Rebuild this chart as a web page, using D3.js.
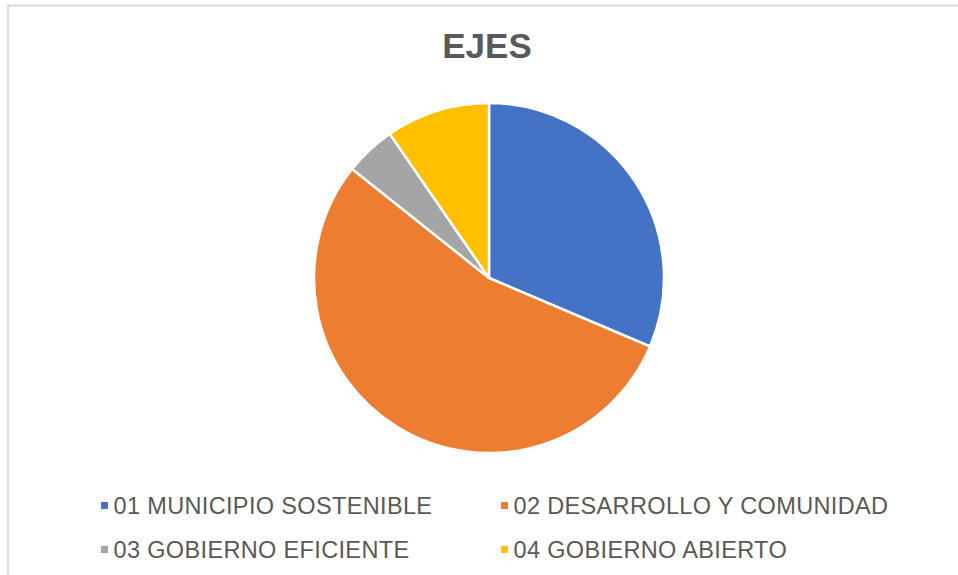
<!DOCTYPE html>
<html>
<head>
<meta charset="utf-8">
<script src="https://cdn.jsdelivr.net/npm/d3@7"></script>
<style>
    html, body { margin: 0; padding: 0; background: #fff; }
    svg { display: block; }
</style>
</head>
<body>
<div id="chart"></div>
<script>
// Pie chart "EJES" - share per axis (in %)
const ejes = ['01 MUNICIPIO SOSTENIBLE', '02 DESARROLLO Y COMUNIDAD', '03 GOBIERNO EFICIENTE', '04 GOBIERNO ABIERTO'];
const valores = [31.4, 54.3, 4.7, 9.6];
const colores = ['#4472C4', '#ED7D31', '#A5A5A5', '#FFC000'];

const W = 958, H = 575;

const svg = d3.select('#chart')
    .append('svg')
    .attr('width', W)
    .attr('height', H);

// chart area frame (runs off right and bottom edges)
svg.append('rect')
    .attr('x', 8)
    .attr('y', 5.5)
    .attr('width', W + 20)
    .attr('height', H + 20)
    .attr('fill', '#fff')
    .attr('stroke', '#d9d9d9')
    .attr('stroke-width', 2);

// title
svg.append('text')
    .attr('x', 487)
    .attr('y', 58)
    .attr('text-anchor', 'middle')
    .style('font-family', 'Liberation Sans, Arial, sans-serif')
    .style('font-size', '35px')
    .style('font-weight', 'bold')
    .style('fill', '#595959')
    .text('EJES');

// pie
const data = ejes.map((e, i) => ({ eje: e, valor: valores[i], color: colores[i] }));
const pie = d3.pie().value(d => d.valor).sort(null);
const arc = d3.arc().innerRadius(0).outerRadius(175);

const g = svg.append('g')
    .attr('transform', 'translate(489,278)');

g.selectAll('path')
    .data(pie(data))
    .enter()
    .append('path')
    .attr('d', arc)
    .attr('fill', d => d.data.color)
    .attr('stroke', '#fff')
    .attr('stroke-width', 2.5)
    .attr('stroke-linejoin', 'round');

// legend, two columns x two rows
const colX = [101, 501];
const rowY = [505.5, 549.5];

const legend = svg.append('g');
const items = legend.selectAll('g')
    .data(data)
    .enter()
    .append('g')
    .attr('transform', (d, i) => `translate(${colX[i % 2]},${rowY[Math.floor(i / 2)]})`);

items.append('rect')
    .attr('x', 0)
    .attr('y', -3.5)
    .attr('width', 7)
    .attr('height', 7)
    .attr('fill', d => d.color);

items.append('text')
    .attr('x', 12.5)
    .attr('y', 8)
    .style('font-family', 'Liberation Sans, Arial, sans-serif')
    .style('font-size', '23.5px')
    .style('letter-spacing', '0.35px')
    .style('fill', '#595959')
    .text(d => d.eje);
</script>
</body>
</html>
